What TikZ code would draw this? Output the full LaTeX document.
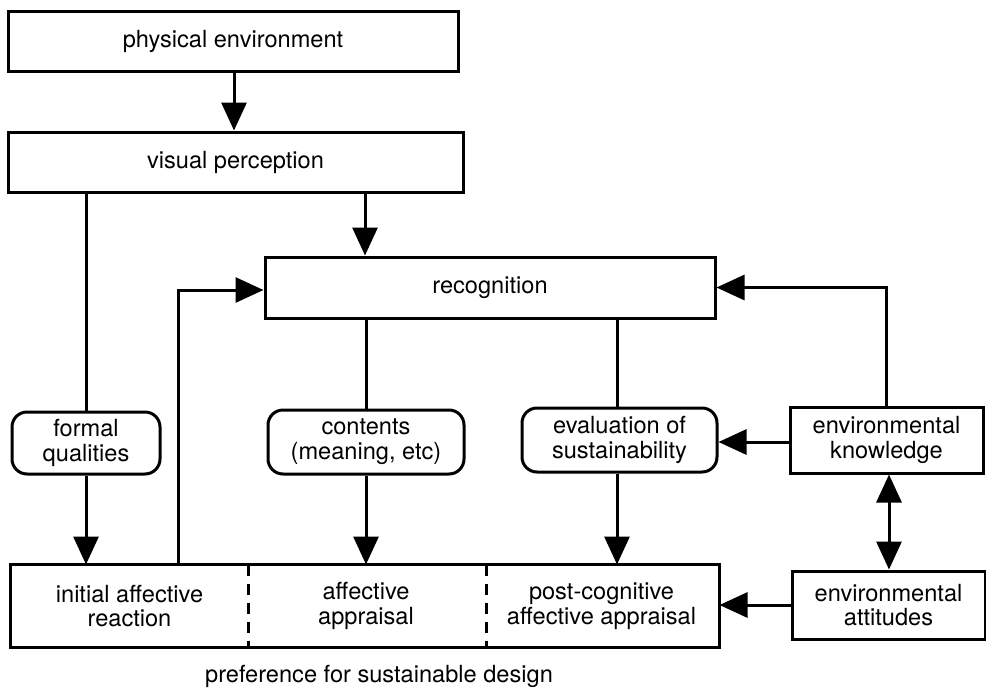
\documentclass[tikz,border=0pt]{standalone}
\usepackage{fontspec}
\setmainfont{TeX Gyre Heros}
\usetikzlibrary{arrows.meta}
\begin{document}
\begin{tikzpicture}[x=0.5pt,y=-0.5pt, line width=1.5pt,
  lbl/.style={align=center, inner sep=0pt, font=\fontsize{11.8}{12.4}\selectfont},
  box/.style={lbl, draw, rectangle},
  rbox/.style={box, rounded corners=7.5pt},
  arr/.style={-{Triangle[width=12.5pt,length=14pt]}},
  darr/.style={{Triangle[width=12.5pt,length=14pt]}-{Triangle[width=12.5pt,length=14pt]}},
  divider/.style={line width=1.4pt, dash pattern=on 5.5pt off 4pt}]
\useasboundingbox (0,0) rectangle (986,691);
% boxes
\node[box, minimum width=225pt, minimum height=30pt] (phys) at (233,41) {physical environment};
\node[box, minimum width=227.5pt, minimum height=30pt] (vis) at (235.5,162) {visual perception};
\node[box, minimum width=225pt, minimum height=30.5pt] (rec) at (490,287.5) {recognition};
\node[rbox, minimum width=74pt, minimum height=31pt] (form) at (86,443) {formal\\qualities};
\node[rbox, minimum width=98pt, minimum height=32pt] (cont) at (366,442) {contents\\(meaning, etc)};
\node[rbox, minimum width=97.5pt, minimum height=32pt] (eval) at (619.5,440) {evaluation of\\sustainability};
\node[box, minimum width=96.5pt, minimum height=33pt] (envk) at (886.5,440) {environmental\\knowledge};
\node[box, minimum width=96.5pt, minimum height=34pt] (enva) at (888.5,605) {environmental\\attitudes};
% bottom compartments
\node[lbl, minimum width=117.5pt, minimum height=40pt] (init) at (129.5,606) {initial affective\\reaction};
\node[lbl, minimum width=119pt, minimum height=40pt] (aff) at (366,606) {affective\\appraisal};
\node[lbl, minimum width=116.5pt, minimum height=40pt] (post) at (601.5,606) {post-cognitive\\affective appraisal};
\draw (init.south west) rectangle (post.north east);
\draw[divider] (init.north east) -- (init.south east);
\draw[divider] (aff.north east) -- (aff.south east);
\node[lbl] (pref) at (379,676) {preference for sustainable design};
% connectors
\draw[arr] (phys.south -| 234,0) -- (vis.north -| 234,0);
\draw[arr] (vis.south -| 365,0) -- (rec.north -| 365,0);
\draw (vis.south -| form.north) -- (form.north);
\draw[arr] (form.south) -- (form.south |- init.north);
\coordinate (fb) at (178,0);
\draw[arr] (fb |- init.north) -- (fb |- 0,290) -- (rec.west |- 0,290);
\draw (rec.south -| cont.north) -- (cont.north);
\draw[arr] (cont.south) -- (aff.north);
\draw (rec.south -| 617,0) -- (eval.north -| 617,0);
\draw[arr] (eval.south -| 617,0) -- (post.north -| 617,0);
\draw[arr] (envk.north) -- (envk.north |- rec.east) -- (rec.east);
\draw[arr] (envk.west |- 0,442) -- (eval.east |- 0,442);
\draw[darr] (envk.south -| 889,0) -- (enva.north -| 889,0);
\draw[arr] (enva.west |- 0,605) -- (post.east |- 0,605);
\end{tikzpicture}
\end{document}
